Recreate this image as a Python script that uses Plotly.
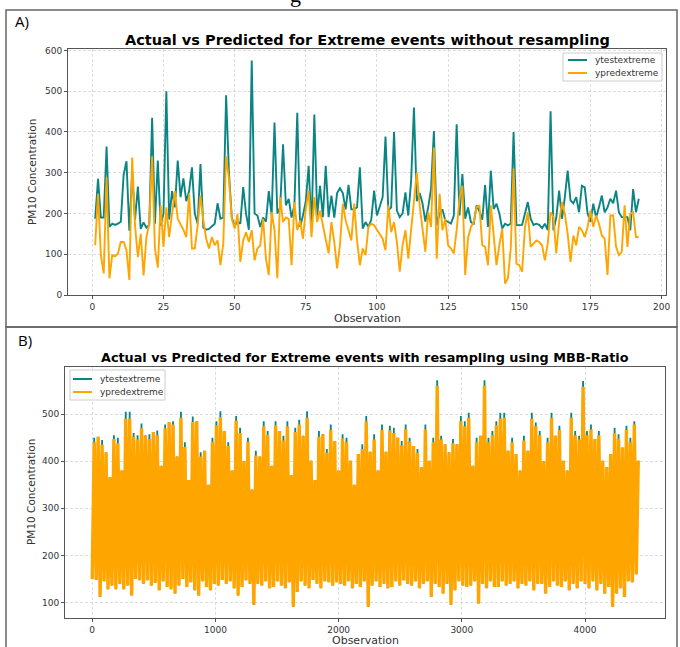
import plotly.graph_objects as go

W, H = 680, 647
TEAL = "#0b8584"
ORANGE = "#ffa500"

# ---------------- Panel A data (observations 1..192) ----------------
a_obs = list(range(1, 193))
a_actual = [
    187, 285, 190, 190, 364, 167, 175, 172, 175, 180,
    295, 328, 158, 300, 185, 266, 162, 178, 165, 172,
    435, 175, 330, 170, 200, 500, 185, 255, 215, 330,
    240, 286, 230, 255, 313, 200, 175, 321, 165, 160,
    162, 168, 175, 225, 187, 190, 490, 300, 190, 170,
    180, 175, 265, 200, 160, 575, 200, 195, 167, 190,
    180, 255, 195, 423, 200, 215, 370, 220, 236, 190,
    220, 447, 167, 195, 230, 317, 163, 443, 195, 268,
    191, 317, 191, 244, 190, 250, 262, 250, 210, 270,
    210, 210, 215, 313, 163, 179, 167, 185, 256, 195,
    220, 240, 389, 207, 215, 400, 207, 191, 200, 252,
    195, 280, 460, 230, 250, 225, 180, 215, 260, 402,
    171, 200, 210, 183, 179, 175, 195, 419, 195, 297,
    187, 215, 179, 175, 220, 205, 185, 270, 167, 305,
    211, 224, 200, 163, 175, 171, 175, 400, 171, 171,
    172, 200, 228, 187, 172, 175, 172, 164, 175, 159,
    451, 159, 190, 256, 187, 240, 305, 232, 225, 240,
    203, 268, 264, 200, 179, 224, 190, 215, 244, 203,
    215, 236, 225, 256, 203, 191, 191, 191, 159, 260,
    203, 236,
]
a_pred = [
    122, 248, 98, 53, 289, 41, 98, 95, 102, 130,
    130, 110, 37, 337, 170, 93, 150, 48, 142, 175,
    340, 114, 67, 220, 118, 215, 142, 200, 255, 187,
    175, 160, 142, 248, 114, 114, 171, 244, 183, 138,
    114, 142, 122, 134, 73, 126, 340, 285, 187, 163,
    199, 81, 134, 154, 130, 159, 85, 114, 122, 187,
    89, 49, 203, 159, 41, 240, 179, 190, 187, 73,
    228, 159, 183, 138, 211, 256, 142, 240, 179, 207,
    171, 138, 102, 179, 130, 65, 122, 224, 183, 159,
    134, 224, 134, 73, 114, 98, 167, 175, 171, 160,
    150, 138, 110, 220, 154, 179, 130, 57, 122, 159,
    89, 159, 244, 301, 220, 160, 106, 203, 167, 362,
    89, 248, 159, 187, 122, 114, 102, 159, 236, 268,
    49, 140, 167, 179, 215, 220, 122, 118, 73, 220,
    154, 73, 122, 163, 28, 41, 114, 310, 77, 73,
    57, 167, 203, 118, 126, 134, 130, 122, 85, 126,
    203, 191, 102, 179, 228, 199, 150, 81, 146, 122,
    167, 159, 142, 167, 207, 167, 195, 175, 146, 138,
    49, 195, 195, 118, 98, 106, 220, 118, 199, 203,
    142, 142,
]
a_xticks = [0, 25, 50, 75, 100, 125, 150, 175, 200]
a_yticks = [0, 100, 200, 300, 400, 500, 600]

# ---------------- Panel B data (read as local highs/lows, every 16 obs) ----------------
b_step = 16
b_actual_high = [
    450, 452, 445, 419, 366, 455, 450, 380, 505, 505,
    460, 455, 480, 455, 457, 462, 465, 390, 478, 483,
    485, 410, 505, 440, 360, 495, 485, 419, 422, 350,
    450, 485, 506, 464, 440, 380, 496, 471, 400, 450,
    340, 422, 410, 485, 464, 390, 485, 464, 454, 485,
    370, 471, 488, 454, 506, 401, 360, 464, 457, 426,
    478, 443, 380, 457, 450, 401, 350, 415, 436, 496,
    420, 457, 380, 478, 420, 475, 471, 450, 443, 478,
    450, 432, 426, 387, 478, 401, 450, 572, 454, 436,
    419, 447, 436, 496, 485, 503, 390, 450, 454, 572,
    450, 464, 485, 503, 503, 422, 450, 415, 380, 454,
    422, 503, 482, 464, 400, 450, 503, 454, 475, 401,
    380, 503, 464, 454, 570, 464, 478, 447, 464, 401,
    387, 415, 471, 457, 429, 475, 450, 485, 401,
]
b_pred_high = [
    440, 452, 435, 419, 366, 447, 438, 380, 490, 490,
    452, 446, 470, 455, 447, 462, 455, 390, 470, 483,
    478, 410, 492, 430, 360, 483, 485, 410, 422, 350,
    440, 476, 494, 464, 432, 380, 486, 460, 400, 441,
    340, 412, 410, 474, 456, 390, 476, 464, 444, 474,
    370, 462, 478, 454, 492, 401, 360, 452, 457, 418,
    466, 443, 380, 448, 440, 401, 350, 415, 426, 484,
    420, 446, 380, 466, 420, 465, 460, 450, 434, 468,
    442, 432, 418, 387, 468, 401, 440, 560, 446, 436,
    419, 438, 436, 485, 474, 492, 390, 440, 454, 560,
    440, 455, 476, 490, 492, 422, 440, 415, 380, 444,
    422, 490, 474, 455, 400, 440, 492, 454, 466, 401,
    380, 492, 455, 446, 558, 455, 468, 447, 455, 401,
    387, 415, 460, 448, 429, 466, 440, 478, 401,
]
b_pred_low = [
    150, 148, 112, 145, 128, 136, 128, 140, 128, 136,
    115, 150, 147, 140, 147, 136, 142, 126, 145, 133,
    128, 119, 136, 150, 133, 143, 126, 115, 145, 133,
    126, 140, 136, 148, 140, 145, 130, 115, 133, 147,
    140, 95, 140, 136, 145, 130, 133, 145, 136, 130,
    143, 91, 122, 145, 136, 130, 148, 140, 130, 145,
    143, 136, 143, 140, 136, 145, 130, 140, 133, 145,
    91, 136, 145, 133, 140, 130, 133, 145, 136, 147,
    140, 136, 145, 130, 140, 145, 112, 140, 133, 119,
    140, 95, 126, 145, 136, 133, 136, 145, 98, 140,
    130, 145, 133, 133, 145, 136, 140, 145, 130, 140,
    136, 145, 126, 140, 140, 119, 133, 145, 136, 133,
    145, 126, 140, 130, 145, 140, 130, 145, 126, 140,
    119, 133, 91, 119, 130, 112, 145, 143, 160,
]
b_actual_low = [
    150, 148, 112, 145, 128, 136, 128, 140, 128, 136,
    115, 150, 147, 140, 147, 136, 142, 126, 145, 133,
    128, 119, 136, 150, 133, 143, 126, 115, 145, 133,
    126, 140, 136, 148, 140, 145, 130, 115, 133, 147,
    140, 95, 140, 136, 145, 130, 133, 145, 136, 130,
    143, 91, 122, 145, 136, 130, 148, 140, 130, 145,
    143, 136, 143, 140, 136, 145, 130, 140, 133, 145,
    91, 136, 145, 133, 140, 130, 133, 145, 136, 147,
    140, 136, 145, 130, 140, 145, 112, 140, 133, 119,
    140, 95, 126, 145, 136, 133, 136, 145, 98, 140,
    130, 145, 133, 133, 145, 136, 140, 145, 130, 140,
    136, 145, 126, 140, 140, 119, 133, 145, 136, 133,
    145, 126, 140, 130, 145, 140, 130, 145, 126, 140,
    119, 133, 91, 119, 130, 112, 145, 143, 160,
]
b_xticks = [0, 1000, 2000, 3000, 4000]
b_yticks = [100, 200, 300, 400, 500]

series_names = ["ytestextreme", "ypredextreme"]


def interleave(lows, highs):
    out = []
    for lo, hi in zip(lows, highs):
        out.extend([lo, hi])
    return out


b_actual = interleave(b_actual_low, b_actual_high)
b_pred = interleave(b_pred_low, b_pred_high)
b_obs = [i * b_step for i in range(len(b_pred))]

# ---------------- Figure ----------------
fig = go.Figure()
fig.add_trace(go.Scatter(x=a_obs, y=a_actual, mode="lines", name=series_names[0],
                         line=dict(color=TEAL, width=1.9), xaxis="x", yaxis="y"))
fig.add_trace(go.Scatter(x=a_obs, y=a_pred, mode="lines", name=series_names[1],
                         line=dict(color=ORANGE, width=1.9), xaxis="x", yaxis="y"))
fig.add_trace(go.Scatter(x=b_obs, y=b_actual, mode="lines", name=series_names[0],
                         line=dict(color=TEAL, width=1.8, simplify=False),
                         xaxis="x2", yaxis="y2"))
fig.add_trace(go.Scatter(x=b_obs, y=b_pred, mode="lines", name=series_names[1],
                         line=dict(color=ORANGE, width=3.4, simplify=False),
                         xaxis="x2", yaxis="y2"))


def px_x(p):
    return p / W


def px_y(p):
    return 1 - p / H


axis_common = dict(
    showgrid=True, gridcolor="#d4d4d4", gridwidth=0.8, griddash="3px,2px",
    showline=True, mirror=True, linecolor="#555555", linewidth=1,
    ticks="outside", ticklen=3, tickcolor="#555555", tickwidth=1,
    tickfont=dict(family="DejaVu Sans", size=9, color="#333333"),
    zeroline=False, automargin=False,
)

fig.update_layout(
    width=W, height=H,
    margin=dict(l=0, r=0, t=0, b=0, pad=0, autoexpand=False),
    paper_bgcolor="white", plot_bgcolor="white",
    showlegend=False,
    xaxis=dict(domain=[px_x(68), px_x(666)], anchor="y", range=[-8.55, 201.55],
               tickmode="array", tickvals=a_xticks, **axis_common),
    yaxis=dict(domain=[px_y(295), px_y(49)], anchor="x", range=[0, 603.5],
               tickmode="array", tickvals=a_yticks, **axis_common),
    xaxis2=dict(domain=[px_x(65), px_x(665)], anchor="y2", range=[-221, 4649],
                tickmode="array", tickvals=b_xticks, **axis_common),
    yaxis2=dict(domain=[px_y(618), px_y(367)], anchor="x2", range=[67, 600],
                tickmode="array", tickvals=b_yticks, **axis_common),
)

legend_font = dict(family="DejaVu Sans", size=9, color="#333333")

annotations = [
    dict(text="<b>Actual vs Predicted for Extreme events without resampling</b>",
         x=px_x(367), y=px_y(40), xanchor="center", yanchor="middle",
         font=dict(family="DejaVu Sans", size=14.5, color="black")),
    dict(text="<b>Actual vs Predicted for Extreme events with resampling using MBB-Ratio</b>",
         x=px_x(365), y=px_y(357), xanchor="center", yanchor="middle",
         font=dict(family="DejaVu Sans", size=12.8, color="black")),
    dict(text="Observation", x=px_x(367), y=px_y(318), xanchor="center", yanchor="middle",
         font=dict(family="DejaVu Sans", size=11, color="#333333")),
    dict(text="Observation", x=px_x(365), y=px_y(640), xanchor="center", yanchor="middle",
         font=dict(family="DejaVu Sans", size=11, color="#333333")),
    dict(text="PM10 Concentration", x=px_x(32), y=px_y(172), textangle=-90,
         xanchor="center", yanchor="middle",
         font=dict(family="DejaVu Sans", size=10.5, color="#333333")),
    dict(text="PM10 Concentration", x=px_x(31), y=px_y(492), textangle=-90,
         xanchor="center", yanchor="middle",
         font=dict(family="DejaVu Sans", size=10.5, color="#333333")),
    dict(text="A)", x=px_x(13), y=px_y(21), xanchor="left", yanchor="middle",
         font=dict(family="Open Sans", size=15, color="black")),
    dict(text="B)", x=px_x(16), y=px_y(340), xanchor="left", yanchor="middle",
         font=dict(family="Open Sans", size=15, color="black")),
    dict(text="g", x=px_x(295), y=1, xanchor="center", yanchor="bottom", yshift=-9,
         font=dict(family="Liberation Serif", size=22, color="black")),
    # legend texts
    dict(text=series_names[0], x=px_x(593), y=px_y(60), xanchor="left", yanchor="middle",
         font=legend_font),
    dict(text=series_names[1], x=px_x(593), y=px_y(73), xanchor="left", yanchor="middle",
         font=legend_font),
    dict(text=series_names[0], x=px_x(98), y=px_y(379), xanchor="left", yanchor="middle",
         font=legend_font),
    dict(text=series_names[1], x=px_x(98), y=px_y(392), xanchor="left", yanchor="middle",
         font=legend_font),
]
for a in annotations:
    a.update(xref="paper", yref="paper", showarrow=False)
fig.update_layout(annotations=annotations)


def seg(x0, x1, y, color):
    return dict(type="line", xref="paper", yref="paper", x0=px_x(x0), x1=px_x(x1),
                y0=px_y(y), y1=px_y(y), line=dict(color=color, width=2))


fig.update_layout(shapes=[
    # panel frames
    dict(type="rect", xref="paper", yref="paper", x0=px_x(6), x1=px_x(677),
         y0=px_y(327), y1=px_y(10), line=dict(color="#666666", width=1.5)),
    dict(type="rect", xref="paper", yref="paper", x0=px_x(6), x1=px_x(677),
         y0=px_y(660), y1=px_y(327), line=dict(color="#666666", width=1.5)),
    # legend A
    dict(type="rect", xref="paper", yref="paper", x0=px_x(563), x1=px_x(662),
         y0=px_y(81), y1=px_y(53), fillcolor="rgba(255,255,255,0.85)",
         line=dict(color="#cccccc", width=1)),
    seg(568, 587, 60, TEAL),
    seg(568, 587, 73, ORANGE),
    # legend B
    dict(type="rect", xref="paper", yref="paper", x0=px_x(70), x1=px_x(165),
         y0=px_y(400), y1=px_y(370), fillcolor="rgba(255,255,255,0.85)",
         line=dict(color="#cccccc", width=1)),
    seg(73, 92, 379, TEAL),
    seg(73, 92, 392, ORANGE),
])

fig.write_html("out.html", config={"displayModeBar": False, "staticPlot": True},
               post_script="document.body.style.margin='0px';")
